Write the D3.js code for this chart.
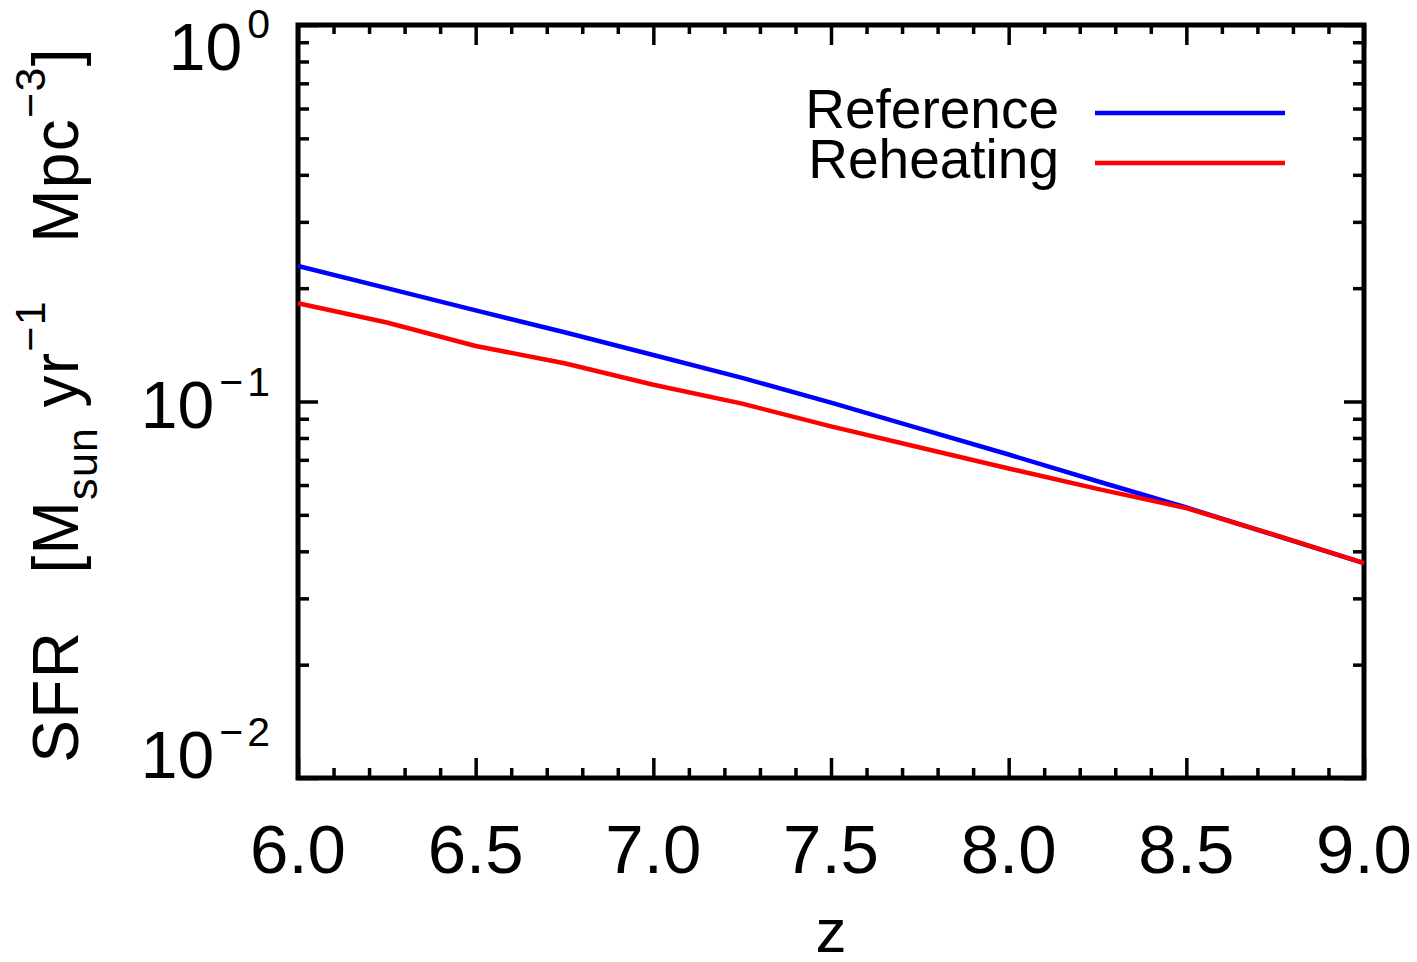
<!DOCTYPE html>
<html>
<head>
<meta charset="utf-8">
<script src="https://cdn.jsdelivr.net/npm/d3@7"></script>
<style>
  body { margin: 0; background: #ffffff; }
  text { font-family: "Liberation Sans", Arial, sans-serif; fill: #000; }
</style>
</head>
<body>
<div id="chart"></div>
<script>
// redshift samples and SFR density values
var redshift = [6.0, 6.25, 6.5, 6.75, 7.0, 7.25, 7.5, 7.75, 8.0, 8.25, 8.5, 8.75, 9.0];
var sfrReference = [0.229, 0.200, 0.1746, 0.1527, 0.1329, 0.1155, 0.0993, 0.0847, 0.0723, 0.0614, 0.0523, 0.0441, 0.0372];
var sfrReheating = [0.1823, 0.1621, 0.1404, 0.1264, 0.1108, 0.0987, 0.0859, 0.0755, 0.0664, 0.0586, 0.0521, 0.0442, 0.0372];

var seriesNames = ["Reference", "Reheating"];
var seriesColors = ["#0000ff", "#ff0000"];

var xMajor = [6.0, 6.5, 7.0, 7.5, 8.0, 8.5, 9.0];
var xMinor = [6.1,6.2,6.3,6.4,6.6,6.7,6.8,6.9,7.1,7.2,7.3,7.4,7.6,7.7,7.8,7.9,8.1,8.2,8.3,8.4,8.6,8.7,8.8,8.9];
var yMajor = [0.01, 0.1, 1];
var yExp = ["\u22122", "\u22121", "0"];
var yMinor = [0.02,0.03,0.04,0.05,0.06,0.07,0.08,0.09,0.2,0.3,0.4,0.5,0.6,0.7,0.8,0.9];

var W = 1417, H = 962;
var plotL = 298, plotR = 1364, plotT = 25, plotB = 778;

var svg = d3.select("#chart").append("svg")
    .attr("width", W)
    .attr("height", H);

var x = d3.scaleLinear().domain([6, 9]).range([plotL, plotR]);
var y = d3.scaleLog().domain([0.01, 1]).range([plotB, plotT]);

// ticks (all pointing inward), no domain path
function tickAxis(axis, tr, vals, size) {
  var g = svg.append("g")
      .attr("transform", tr)
      .call(axis.tickValues(vals).tickSize(size).tickFormat(""));
  g.select(".domain").remove();
  g.selectAll(".tick line").attr("stroke", "#000").attr("stroke-width", 3.5);
  return g;
}
tickAxis(d3.axisBottom(x), "translate(0," + plotB + ")", xMajor, -20);
tickAxis(d3.axisBottom(x), "translate(0," + plotB + ")", xMinor, -10);
tickAxis(d3.axisTop(x), "translate(0," + plotT + ")", xMajor, -20);
tickAxis(d3.axisTop(x), "translate(0," + plotT + ")", xMinor, -9);
tickAxis(d3.axisLeft(y), "translate(" + plotL + ",0)", yMajor, -20);
tickAxis(d3.axisLeft(y), "translate(" + plotL + ",0)", yMinor, -11);
tickAxis(d3.axisRight(y), "translate(" + plotR + ",0)", yMajor, -20);
tickAxis(d3.axisRight(y), "translate(" + plotR + ",0)", yMinor, -11);

// frame
svg.append("rect")
  .attr("x", plotL).attr("y", plotT)
  .attr("width", plotR - plotL).attr("height", plotB - plotT)
  .attr("fill", "none")
  .attr("stroke", "#000")
  .attr("stroke-width", 5);

// x tick labels
svg.append("g").selectAll("text")
  .data(xMajor)
  .enter().append("text")
  .attr("x", function(d) { return x(d); })
  .attr("y", 873)
  .attr("text-anchor", "middle")
  .style("font-size", "69px")
  .text(function(d) { return d.toFixed(1); });

// y tick labels 10^n
var ylab = svg.append("g").selectAll("text")
  .data(yMajor)
  .enter().append("text")
  .attr("x", 274)
  .attr("y", function(d) { return Math.min(Math.max(y(d) + 26, 70), 778); })
  .attr("text-anchor", "end")
  .style("font-size", "66px");
ylab.append("tspan").text("10");
ylab.append("tspan")
  .attr("dy", -32)
  .attr("dx", 5)
  .style("font-size", "41px")
  .style("letter-spacing", "4px")
  .text(function(d, i) { return yExp[i]; });

// x title
svg.append("text")
  .attr("x", (plotL + plotR) / 2)
  .attr("y", 952)
  .attr("text-anchor", "middle")
  .style("font-size", "62px")
  .text("z");

// y title
var yt = svg.append("text")
  .attr("transform", "translate(78,405) rotate(-90)")
  .attr("text-anchor", "middle")
  .style("font-size", "64px")
  .style("letter-spacing", "1.3px");
yt.append("tspan").text("SFR\u00a0\u00a0\u00a0[M");
yt.append("tspan").attr("dy", 19).style("font-size", "43px").text("sun");
yt.append("tspan").attr("dy", -19).text("\u00a0yr");
yt.append("tspan").attr("dy", -33).style("font-size", "43px").text("\u22121");
yt.append("tspan").attr("dy", 33).text("\u00a0\u00a0\u00a0Mpc");
yt.append("tspan").attr("dy", -33).style("font-size", "43px").text("\u22123");
yt.append("tspan").attr("dy", 33).text("]");

// curves
var series = [sfrReference, sfrReheating];
var line = d3.line()
  .x(function(d, i) { return x(redshift[i]); })
  .y(function(d) { return y(d); });

svg.append("g").selectAll("path")
  .data(series)
  .enter().append("path")
  .attr("d", line)
  .attr("fill", "none")
  .attr("stroke", function(d, i) { return seriesColors[i]; })
  .attr("stroke-width", 4.5)
  .attr("stroke-linejoin", "round");

// legend
var legY = d3.scaleOrdinal().domain(seriesNames).range([128, 178]);
var leg = svg.append("g").selectAll("g")
  .data(seriesNames)
  .enter().append("g");
leg.append("text")
  .attr("x", 1059)
  .attr("y", function(d) { return legY(d); })
  .attr("text-anchor", "end")
  .style("font-size", "55px")
  .text(function(d) { return d; });
leg.append("line")
  .attr("x1", 1095).attr("x2", 1285)
  .attr("y1", function(d) { return legY(d) - 15; })
  .attr("y2", function(d) { return legY(d) - 15; })
  .attr("stroke", function(d, i) { return seriesColors[i]; })
  .attr("stroke-width", 4.5);
</script>
</body>
</html>
